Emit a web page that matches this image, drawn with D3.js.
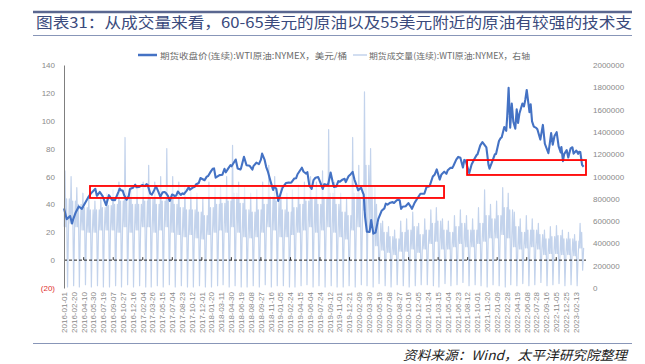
<!DOCTYPE html>
<html>
<head>
<meta charset="utf-8">
<script src="https://cdn.jsdelivr.net/npm/d3@7"></script>
<style>
  body { margin: 0; background: #fff; }
  svg { display: block; }
</style>
</head>
<body>
<svg width="645" height="364"></svg>
<script>
// WTI front-month close (USD/bbl)
const oilPrice = [
  ['2016-01-01',37.0],['2016-01-15',29.4],['2016-02-01',31.6],['2016-02-11',26.2],['2016-02-16',29.0],['2016-03-01',34.4],
  ['2016-03-16',38.5],['2016-04-01',36.8],['2016-04-15',40.4],['2016-05-02',44.8],['2016-05-16',47.7],['2016-06-08',51.2],
  ['2016-06-16',46.2],['2016-06-24',47.6],['2016-07-01',48.9],['2016-07-15',45.9],['2016-08-02',39.5],['2016-08-16',46.6],
  ['2016-09-01',43.2],['2016-09-16',43.0],['2016-10-03',48.8],['2016-10-10',51.4],['2016-10-17',50.0],['2016-10-25',49.9],
  ['2016-11-01',46.7],['2016-11-14',43.3],['2016-11-25',46.1],['2016-12-01',51.1],['2016-12-16',51.9],['2016-12-28',54.1],
  ['2017-01-03',52.3],['2017-01-17',52.5],['2017-01-25',53.2],['2017-02-01',53.9],['2017-02-15',53.1],['2017-02-23',54.5],
  ['2017-03-01',54.0],['2017-03-14',47.7],['2017-03-22',47.0],['2017-04-03',50.2],['2017-04-12',53.1],['2017-04-24',49.2],
  ['2017-05-04',45.5],['2017-05-16',48.7],['2017-05-25',48.9],['2017-06-01',48.3],['2017-06-12',46.1],['2017-06-21',42.5],
  ['2017-07-03',47.1],['2017-07-17',46.0],['2017-07-24',46.3],['2017-08-01',49.2],['2017-08-16',46.8],['2017-08-25',47.9],
  ['2017-09-01',47.3],['2017-09-15',49.9],['2017-09-25',52.2],['2017-10-02',50.6],['2017-10-16',52.0],['2017-10-26',52.6],
  ['2017-11-01',54.3],['2017-11-15',55.3],['2017-11-24',58.9],['2017-12-01',58.4],['2017-12-15',57.3],['2017-12-26',59.9],
  ['2018-01-02',60.4],['2018-01-16',63.7],['2018-01-25',65.5],['2018-02-01',65.8],['2018-02-09',59.2],['2018-03-01',61.0],
  ['2018-03-15',61.2],['2018-03-26',65.5],['2018-04-02',63.0],['2018-04-16',66.2],['2018-04-25',68.1],['2018-05-01',67.3],
  ['2018-05-22',72.2],['2018-06-01',65.8],['2018-06-15',65.1],['2018-06-18',65.9],['2018-07-03',74.1],['2018-07-16',68.1],
  ['2018-08-01',67.7],['2018-08-15',65.0],['2018-08-20',67.4],['2018-09-04',69.9],['2018-09-17',68.9],['2018-09-27',72.1],
  ['2018-10-03',76.4],['2018-10-16',71.9],['2018-10-24',66.8],['2018-11-01',63.7],['2018-11-15',56.5],['2018-11-28',50.3],
  ['2018-12-03',52.9],['2018-12-14',51.2],['2018-12-24',42.5],
  ['2019-01-02',46.5],['2019-01-15',52.1],['2019-02-01',55.3],['2019-02-15',55.6],['2019-02-25',55.5],['2019-03-01',55.8],
  ['2019-03-15',58.5],['2019-03-25',58.8],['2019-04-01',61.6],['2019-04-23',66.3],['2019-05-01',63.6],['2019-05-15',62.0],
  ['2019-05-21',63.1],['2019-05-31',53.5],['2019-06-12',51.1],['2019-06-21',57.4],['2019-07-01',59.1],['2019-07-15',59.6],
  ['2019-07-25',56.0],['2019-08-07',51.1],['2019-08-15',54.5],['2019-08-23',54.2],['2019-09-03',53.9],['2019-09-16',62.9],
  ['2019-09-26',56.4],['2019-10-03',52.5],['2019-10-15',52.8],['2019-10-25',56.7],['2019-11-01',56.2],['2019-11-15',57.7],
  ['2019-11-26',58.4],['2019-12-02',56.0],['2019-12-16',60.2],['2019-12-27',61.7],
  ['2020-01-06',63.3],['2020-01-15',57.8],['2020-01-27',53.1],['2020-02-03',50.1],['2020-02-18',52.0],['2020-02-26',48.7],
  ['2020-03-02',47.0],['2020-03-09',31.1],['2020-03-18',20.4],['2020-04-01',20.3],['2020-04-09',28.8],['2020-04-20',19.0],
  ['2020-05-01',19.8],['2020-05-15',29.4],['2020-06-01',35.4],['2020-06-15',37.1],['2020-06-22',40.5],['2020-07-01',39.8],
  ['2020-07-15',41.2],['2020-07-27',41.6],['2020-08-03',41.0],['2020-08-17',42.9],['2020-08-26',43.4],['2020-09-01',42.8],
  ['2020-09-08',36.8],['2020-09-15',38.3],['2020-10-01',38.7],['2020-10-15',40.9],['2020-10-26',38.6],['2020-11-02',36.8],
  ['2020-11-16',41.3],['2020-12-01',44.6],['2020-12-15',47.6],['2020-12-28',47.6],
  ['2021-01-04',47.6],['2021-01-15',52.4],['2021-01-27',52.9],['2021-02-01',53.6],['2021-02-16',60.0],['2021-02-26',61.5],
  ['2021-03-08',65.1],['2021-03-23',57.8],['2021-04-01',61.5],['2021-04-15',63.5],['2021-04-26',61.9],['2021-05-03',64.5],
  ['2021-05-17',66.3],['2021-05-26',66.2],['2021-06-01',67.7],['2021-06-15',72.1],['2021-06-25',74.1],['2021-07-06',73.4],
  ['2021-07-19',66.4],['2021-07-26',71.9],['2021-08-02',71.3],['2021-08-20',62.3],['2021-09-01',68.6],['2021-09-15',72.6],
  ['2021-09-27',75.5],['2021-10-01',75.9],['2021-10-15',82.3],['2021-10-26',84.7],['2021-11-15',80.9],['2021-11-26',68.2],
  ['2021-12-01',65.6],['2021-12-15',70.9],['2021-12-28',75.9],
  ['2022-01-03',76.1],['2022-01-18',85.4],['2022-01-26',87.4],['2022-02-01',88.2],['2022-02-14',95.5],['2022-02-24',92.8],
  ['2022-03-01',103.4],['2022-03-08',123.7],['2022-03-16',95.0],['2022-03-24',112.3],['2022-04-01',99.3],['2022-04-11',94.3],
  ['2022-04-18',108.2],['2022-04-25',98.5],['2022-05-02',105.2],['2022-05-17',112.4],['2022-05-25',110.3],['2022-06-01',115.3],
  ['2022-06-08',122.1],['2022-06-22',106.2],['2022-06-28',111.8],['2022-07-05',99.5],['2022-07-14',95.8],['2022-07-26',94.9],
  ['2022-08-01',93.9],['2022-08-16',86.5],['2022-08-29',97.0],['2022-09-08',83.5],['2022-09-26',76.7],['2022-10-03',83.6],
  ['2022-10-10',91.1],['2022-10-18',82.8],['2022-10-27',89.1],['2022-11-07',91.8],['2022-11-17',81.6],['2022-11-28',77.2],
  ['2022-12-01',81.2],['2022-12-09',71.0],['2022-12-15',76.1],['2022-12-28',78.9],
  ['2023-01-05',73.7],['2023-01-17',80.2],['2023-01-26',81.0],['2023-02-01',76.4],['2023-02-15',78.6],['2023-02-24',76.3],
  ['2023-03-01',77.7],['2023-03-07',77.6],['2023-03-16',68.4],['2023-03-24',67.0]
];

// monthly volume readings (10k contracts), 2016-01 .. 2023-03
const volMonths = d3.timeMonths(new Date(2016, 0, 1), new Date(2023, 3, 1));
const volMid = [
  55,58,55,52,50,50,52,52,52,50,55,50,
  52,55,55,50,52,55,50,48,46,48,45,44,
  48,50,52,50,55,50,46,45,46,50,55,52,
  46,46,48,50,52,55,50,52,55,50,46,44,
  52,55,70,55,38,34,32,30,33,33,35,32,
  35,40,42,35,35,37,40,37,37,40,42,45,
  45,48,45,37,35,36,37,35,30,31,31,30,
  30,29,36
];
const volPeak = [
  105,100,90,85,80,78,82,85,88,95,135,90,
  90,95,110,95,100,125,100,95,90,88,85,80,
  95,90,92,100,128,95,90,85,88,95,110,100,
  90,85,88,92,95,100,95,105,142,95,85,80,
  135,110,176,125,75,60,55,52,60,62,68,58,
  62,70,72,62,60,65,70,65,62,72,88,75,
  78,90,85,68,62,65,62,58,52,55,56,52,
  50,48,58
];
const volSub = [
  80,78,75,72,70,70,72,74,75,78,85,75,
  75,78,80,75,78,80,75,72,70,70,68,65,
  72,75,76,78,85,76,70,68,70,75,82,78,
  70,68,72,75,78,80,75,80,85,75,68,65,
  85,80,110,90,58,50,46,44,50,52,55,48,
  52,58,60,52,50,55,58,52,52,58,65,62,
  65,72,70,55,50,52,52,48,44,46,47,44,
  44,42,50
];
const volDip = [
  1,2,1,3,1,2,1,1,2,1,3,1,
  2,1,1,2,1,3,1,2,1,1,2,1,
  1,2,3,1,2,1,1,2,1,3,1,2,
  2,1,1,2,3,1,2,1,2,1,1,2,
  1,3,2,1,4,2,1,3,2,1,2,3,
  3,2,1,4,2,3,5,2,3,2,1,3,
  2,1,3,2,4,2,3,5,2,3,4,2,
  3,2,16
];

const leftTicks = [-20, 0, 20, 40, 60, 80, 100, 120, 140];
const rightTicks = [0, 200000, 400000, 600000, 800000, 1000000, 1200000, 1400000, 1600000, 1800000, 2000000];
const xLabels = [
  '2016-01-01','2016-02-20','2016-04-10','2016-05-30','2016-07-19','2016-09-07','2016-10-27','2016-12-16',
  '2017-02-04','2017-03-26','2017-05-15','2017-07-04','2017-08-23','2017-10-12','2017-12-01','2018-01-20',
  '2018-03-11','2018-04-30','2018-06-19','2018-08-08','2018-09-27','2018-11-16','2019-01-05','2019-02-24',
  '2019-04-15','2019-06-04','2019-07-24','2019-09-12','2019-11-01','2019-12-21','2020-02-09','2020-03-30',
  '2020-05-19','2020-07-08','2020-08-27','2020-10-16','2020-12-05','2021-01-24','2021-03-15','2021-05-04',
  '2021-06-23','2021-08-12','2021-10-01','2021-11-20','2022-01-09','2022-02-28','2022-04-19','2022-06-08',
  '2022-07-28','2022-09-16','2022-11-05','2022-12-25','2023-02-13'
];

// highlighted support zones (left axis values)
const zones = [
  { from: '2016-05-12', to: '2021-04-14', lo: 44.6, hi: 53.2 },
  { from: '2021-08-09', to: '2023-04-05', lo: 61.1, hi: 71.8 }
];

const titleText = '图表31：从成交量来看，60-65美元的原油以及55美元附近的原油有较强的技术支';
const legendItems = [
  { name: '期货收盘价(连续):WTI原油:NYMEX，美元/桶', color: '#4472c4', width: 2.5 },
  { name: '期货成交量(连续):WTI原油:NYMEX，右轴', color: '#c3d3ec', width: 1.5 }
];
const sourceText = '资料来源：Wind，太平洋研究院整理';

const parse = d3.timeParse('%Y-%m-%d');
const svg = d3.select('svg');
const cjk = '"Noto Sans CJK SC", "Noto Sans", sans-serif';
const num = '"Liberation Sans", Arial, sans-serif';

const x = d3.scaleTime()
  .domain([parse('2016-01-01'), parse('2023-04-05')])
  .range([64, 586]);
const yL = d3.scaleLinear().domain([-20, 140]).range([288, 65]);
const yR = d3.scaleLinear().domain([0, 2000000]).range([288, 65]);

// title block
svg.append('line').attr('x1', 33).attr('x2', 632).attr('y1', 12).attr('y2', 12)
  .attr('stroke', '#5a6790').attr('stroke-width', 2.5);
svg.append('text')
  .attr('x', 36).attr('y', 28)
  .attr('font-family', cjk).attr('font-size', 15).attr('font-weight', 400)
  .attr('fill', '#3a4a7c')
  .attr('textLength', 596).attr('lengthAdjust', 'spacingAndGlyphs')
  .text(titleText);
svg.append('line').attr('x1', 33).attr('x2', 632).attr('y1', 35.5).attr('y2', 35.5)
  .attr('stroke', '#8896b8').attr('stroke-width', 1);

// legend
const legendPos = [{ lx: 138, lw: 19, tx: 160, tw: 187 }, { lx: 353, lw: 14, tx: 369, tw: 161 }];
legendItems.forEach((it, i) => {
  const p = legendPos[i];
  svg.append('line').attr('x1', p.lx).attr('x2', p.lx + p.lw).attr('y1', 55).attr('y2', 55)
    .attr('stroke', it.color).attr('stroke-width', it.width);
  svg.append('text').attr('x', p.tx).attr('y', 58.5)
    .attr('font-family', cjk).attr('font-size', 8.5).attr('fill', '#6b6b6b')
    .attr('textLength', p.tw).attr('lengthAdjust', 'spacingAndGlyphs')
    .text(it.name);
});

// volume (right axis)
const volume = [];
volMonths.forEach((m, i) => {
  const y = m.getFullYear(), mo = m.getMonth();
  const pts = [[2, volMid[i]], [6, volPeak[i]], [10, volMid[i]], [14, volSub[i]], [19, volDip[i]], [24, volMid[i]], [28, volSub[i]]];
  pts.forEach(([day, v]) => volume.push({ date: new Date(y, mo, day), v: v * 10000 }));
});
const volData = volume.filter(d => d.date <= parse('2023-03-24'));

svg.append('path')
  .datum(volData)
  .attr('fill', 'none')
  .attr('stroke', '#c3d3ec')
  .attr('stroke-width', 1.2)
  .attr('stroke-linejoin', 'round')
  .attr('d', d3.line().x(d => x(d.date)).y(d => yR(d.v)));

// zero line (category axis)
svg.append('line')
  .attr('x1', 64).attr('x2', 586).attr('y1', yL(0)).attr('y2', yL(0))
  .attr('stroke', '#222').attr('stroke-width', 1).attr('stroke-dasharray', '3,2');
svg.append('g').selectAll('line')
  .data(xLabels.filter((d, i) => i % 3 === 2))
  .enter().append('line')
  .attr('x1', d => x(parse(d))).attr('x2', d => x(parse(d)))
  .attr('y1', yL(0)).attr('y2', yL(0) - 3)
  .attr('stroke', '#333').attr('stroke-width', 1);

// zone fills
svg.append('g').selectAll('rect')
  .data(zones).enter().append('rect')
  .attr('x', d => x(parse(d.from)))
  .attr('width', d => x(parse(d.to)) - x(parse(d.from)))
  .attr('y', d => yL(d.hi))
  .attr('height', d => yL(d.lo) - yL(d.hi))
  .attr('fill', '#fff').attr('fill-opacity', 0.6);

// price line
svg.append('path')
  .datum(oilPrice.map(d => ({ date: parse(d[0]), v: d[1] })).sort((a, b) => a.date - b.date))
  .attr('fill', 'none')
  .attr('stroke', '#4472c4')
  .attr('stroke-width', 2.1)
  .attr('stroke-linejoin', 'round')
  .attr('d', d3.line().x(d => x(d.date)).y(d => yL(d.v)));

// zone outlines
svg.append('g').selectAll('rect')
  .data(zones).enter().append('rect')
  .attr('x', d => x(parse(d.from)))
  .attr('width', d => x(parse(d.to)) - x(parse(d.from)))
  .attr('y', d => yL(d.hi))
  .attr('height', d => yL(d.lo) - yL(d.hi))
  .attr('fill', 'none').attr('stroke', '#ff0000').attr('stroke-width', 1.8);

// left axis
const gL = svg.append('g')
  .attr('transform', 'translate(64,0)')
  .call(d3.axisLeft(yL).tickValues(leftTicks).tickSize(0).tickSizeOuter(0).tickPadding(9)
    .tickFormat(d => d < 0 ? `(${-d})` : d));
gL.select('.domain').attr('stroke', '#7f7f7f');
gL.selectAll('text')
  .attr('font-family', num).attr('font-size', 8)
  .attr('fill', d => d < 0 ? '#e03030' : '#8a8a8a');

// right axis
const gR = svg.append('g')
  .attr('transform', 'translate(588,0)')
  .call(d3.axisRight(yR).tickValues(rightTicks).tickSize(0).tickPadding(5).tickFormat(d3.format('d')));
gR.select('.domain').remove();
gR.selectAll('text').attr('font-family', num).attr('font-size', 8).attr('fill', '#8a8a8a');

// date labels
svg.append('g').selectAll('text')
  .data(xLabels).enter().append('text')
  .attr('transform', d => `translate(${x(parse(d))},292) rotate(-90)`)
  .attr('text-anchor', 'end')
  .attr('dy', '0.35em')
  .attr('font-family', num).attr('font-size', 8)
  .attr('fill', '#8a8a8a')
  .text(d => d);

// source
svg.append('line').attr('x1', 33).attr('x2', 632).attr('y1', 343.5).attr('y2', 343.5)
  .attr('stroke', '#8896b8').attr('stroke-width', 1);
svg.append('text')
  .attr('x', 403).attr('y', 360)
  .attr('font-family', cjk).attr('font-size', 13).attr('font-style', 'italic')
  .attr('fill', '#222')
  .attr('textLength', 224).attr('lengthAdjust', 'spacingAndGlyphs')
  .text(sourceText);
</script>
</body>
</html>
